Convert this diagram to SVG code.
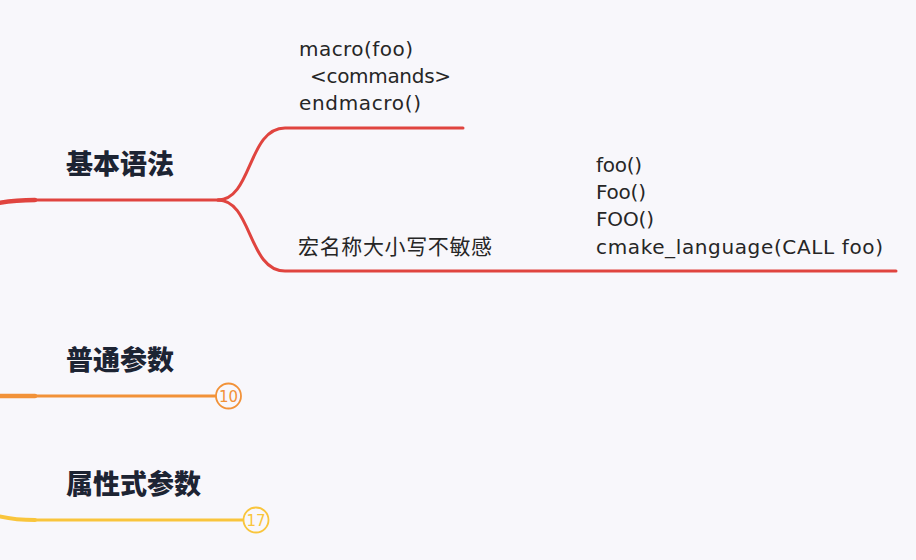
<svg xmlns="http://www.w3.org/2000/svg" width="916" height="560" viewBox="0 0 916 560">
  <defs>
    <style>
      .h { font-family: "Noto Sans CJK SC", "Noto Sans", sans-serif; font-weight: 800; font-size: 27px; fill: #1d2433; }
      .t { font-family: "DejaVu Sans", "Liberation Sans", sans-serif; font-size: 20px; fill: #262626; }
      .zh { font-family: "Noto Sans CJK SC", "Noto Sans", sans-serif; font-size: 21px; fill: #262626; }
      .red { fill: none; stroke: #e0443f; stroke-linecap: round; }
      .org { fill: none; stroke: #f29238; stroke-linecap: round; }
      .yel { fill: none; stroke: #f9c53c; stroke-linecap: round; }
      .num { font-family: "DejaVu Sans", "Liberation Sans", sans-serif; font-size: 15px; text-anchor: middle; }
    </style>
  </defs>
  <rect width="916" height="560" fill="#f8f7fb"/>

  <g id="connectors">
    <!-- red branch -->
    <path class="red" d="M-2,203 Q15,200 35,200" stroke-width="4.5"/>
    <path class="red" d="M35,200 L220,200" stroke-width="3"/>
    <path class="red" d="M218,200 C252,200 248,128 285,128 L463,128" stroke-width="3"/>
    <path class="red" d="M218,200 C252,200 248,271 285,271 L896,271" stroke-width="3"/>
    <!-- orange branch -->
    <path class="org" d="M-2,396 L35,396" stroke-width="4.5"/>
    <path class="org" d="M35,396 L216,396" stroke-width="3"/>
    <!-- yellow branch -->
    <path class="yel" d="M-2,516 Q15,520 35,520" stroke-width="4"/>
    <path class="yel" d="M35,520 L243,520" stroke-width="3"/>
  </g>

  <g id="node-basic">
    <text class="h" x="66" y="174">基本语法</text>
  </g>

  <g id="node-macro-def">
    <text class="t" x="299" y="56" textLength="114">macro(foo)</text>
    <text class="t" x="310" y="83" textLength="141">&lt;commands&gt;</text>
    <text class="t" x="299" y="110" textLength="122">endmacro()</text>
  </g>

  <g id="node-case">
    <text class="zh" x="298" y="254" textLength="194">宏名称大小写不敏感</text>
  </g>

  <g id="node-calls">
    <text class="t" x="596" y="172" textLength="46">foo()</text>
    <text class="t" x="596" y="199" textLength="50">Foo()</text>
    <text class="t" x="596" y="226" textLength="58">FOO()</text>
    <text class="t" x="596" y="254" textLength="287">cmake_language(CALL foo)</text>
  </g>

  <g id="node-normal-params">
    <text class="h" x="66" y="370">普通参数</text>
    <circle cx="228.5" cy="396" r="12.5" fill="#f8f7fb" stroke="#f29238" stroke-width="1.8"/>
    <text class="num" x="228.5" y="401.5" fill="#f29238">10</text>
  </g>

  <g id="node-attr-params">
    <text class="h" x="66" y="494">属性式参数</text>
    <circle cx="256" cy="520" r="12.5" fill="#f8f7fb" stroke="#f9c53c" stroke-width="1.8"/>
    <text class="num" x="256" y="525.5" fill="#f9c53c">17</text>
  </g>
</svg>
